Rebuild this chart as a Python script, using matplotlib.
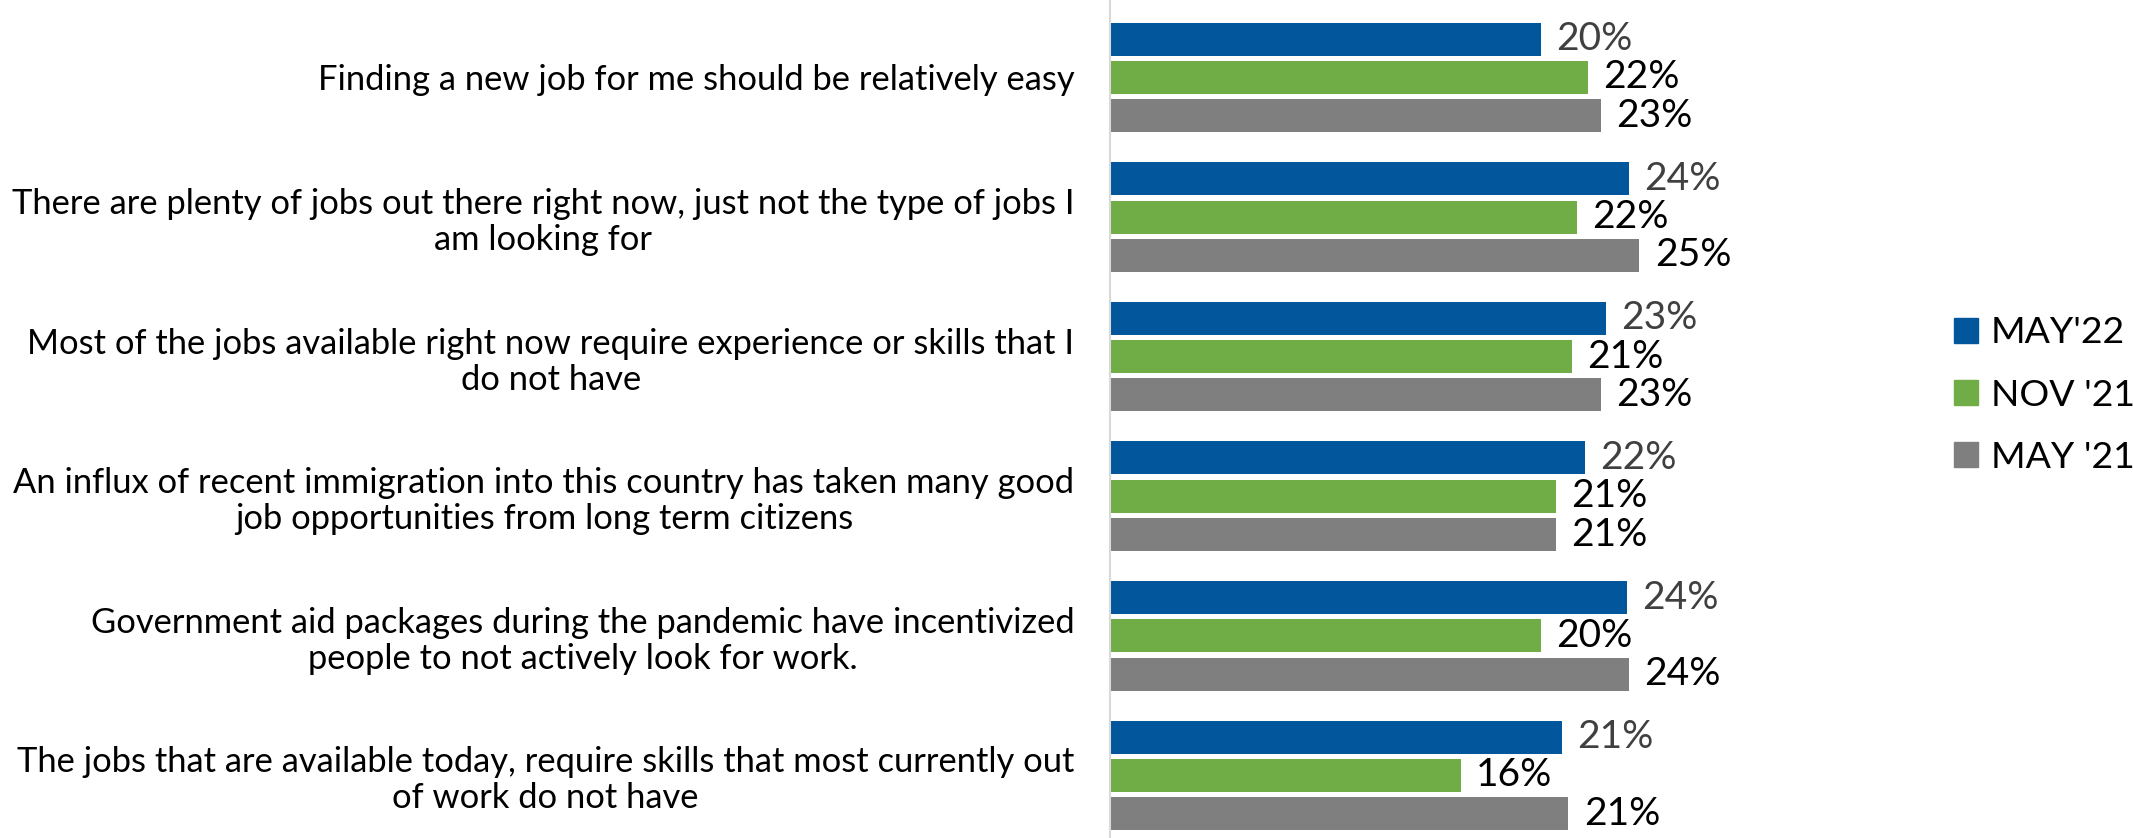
import numpy as np
import matplotlib.pyplot as plt
from matplotlib.patches import Patch

FONT = 'Lato'
plt.rcParams['font.family'] = [FONT, 'DejaVu Sans']

categories = [
    "Finding a new job for me should be relatively easy",
    "There are plenty of jobs out there right now, just not the type of jobs I\nam looking for",
    "Most of the jobs available right now require experience or skills that I\ndo not have",
    "An influx of recent immigration into this country has taken many good\njob opportunities from long term citizens",
    "Government aid packages during the pandemic have incentivized\npeople to not actively look for work.",
    "The jobs that are available today, require skills that most currently out\nof work do not have",
]
series = ["MAY'22", "NOV '21", "MAY '21"]
may22 = [20.0, 24.1, 23.05, 22.05, 24.0, 21.0]
nov21 = [22.2, 21.7, 21.45, 20.7, 20.0, 16.3]
may21 = [22.8, 24.6, 22.8, 20.7, 24.1, 21.3]

colors = ['#02569B', '#70AD47', '#7F7F7F']
label_colors = ['#404040', 'black', 'black']

fig = plt.figure(figsize=(21.33, 8.38), dpi=100)
renderer = fig.canvas.get_renderer()


def fit_size(txt, target_px, size0=20):
    # font size so that txt comes out target_px wide
    t = fig.text(0, 0, txt, fontsize=size0)
    w = t.get_window_extent(renderer).width
    t.remove()
    return size0 * target_px / w


cat_size = fit_size("An influx of recent immigration into this country has taken many good", 1064)
val_size = fit_size("20%", 76)
leg_size = fit_size("MAY'22", 134)

ax = fig.add_axes([1110.5 / 2133, 0, 645 / 2133, 1])

y = np.arange(len(categories))
step = 0.2745
h = 0.2364
for i, (vals, col, lc) in enumerate(zip([may22, nov21, may21], colors, label_colors)):
    bars = ax.barh(y + (i - 1) * step, vals, height=h, color=col, label=series[i])
    ax.bar_label(bars, labels=[f"{v:.0f}%" for v in vals], padding=11,
                 fontsize=val_size, color=lc)

ax.set_xlim(0, 30)
ax.set_ylim(5.448, -0.555)
ax.set_yticks(y)
ax.set_yticklabels(categories, fontsize=cat_size, linespacing=1.15)
for t in ax.get_yticklabels():
    t.set_multialignment('center')
ax.tick_params(axis='y', length=0, pad=26)
ax.set_xticks([])
for s in ['top', 'right', 'bottom']:
    ax.spines[s].set_visible(False)
ax.spines['left'].set_color('#D9D9D9')
ax.spines['left'].set_linewidth(1.5)

fs_px = leg_size * 100 / 72
handles = [Patch(color=c) for c in colors]
fig.legend(handles, series, loc='center left', bbox_to_anchor=(1954 / 2133, 1 - 395 / 838),
           frameon=False, fontsize=leg_size, handlelength=24 / fs_px, handleheight=24 / fs_px,
           handletextpad=13 / fs_px, labelspacing=0.78, borderpad=0, borderaxespad=0)

fig.savefig('out.png', dpi=100)
